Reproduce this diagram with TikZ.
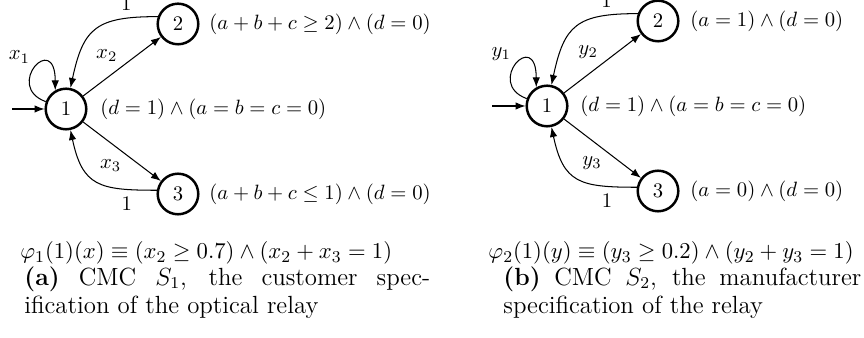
\documentclass[tikz,border=0pt]{standalone}
\usetikzlibrary{arrows.meta}
\begin{document}
\begin{tikzpicture}[x=0.483pt,y=0.483pt,
  state/.style={circle,draw,line width=1.2pt,minimum size=19.6pt,inner sep=0pt},
  tr/.style={line width=0.5pt,-{Latex[length=4.8pt,width=3.6pt]}},
  prop/.style={anchor=west,inner sep=0pt},
  elab/.style={inner sep=2pt},
  formula/.style={anchor=west,inner sep=0pt,font=\fontsize{11}{13}\selectfont},
  capline/.style={anchor=west,inner sep=0pt,font=\fontsize{12}{14}\selectfont}]
\useasboundingbox (0,0) rectangle (864,338);
% ---------- left CMC ----------
\node[state] (a1) at (66,229) {1};
\node[state] (a2) at (178,314) {2};
\node[state] (a3) at (178,144) {3};
\coordinate (sa) at (12,229);
\node[prop] (pa1) at (100,229) {$(d=1)\wedge(a=b=c=0)$};
\node[prop] (pa2) at (209,314) {$(a+b+c\geq 2)\wedge(d=0)$};
\node[prop] (pa3) at (209,144) {$(a+b+c\leq 1)\wedge(d=0)$};
\draw[tr] (sa) -- (a1);
\draw[tr] (a1.160) .. controls +(160:45) and +(90:60) .. node[elab,pos=0.5,above left] {$x_1$} (a1.120);
\draw[tr] (a1) -- node[elab,pos=0.5,above left] {$x_2$} (a2);
\draw[tr] (a1) -- node[elab,pos=0.55,below left] {$x_3$} (a3);
\draw[tr] (a2.160) to[out=180,in=78,looseness=1.4] node[pos=0.2,above] {$1$} (a1.78);
\draw[tr] (a3.170) to[out=180,in=-78,looseness=1.4] node[pos=0.2,below] {$1$} (a1.-78);
\node[formula] (fa) at (20,85) {$\varphi_1(1)(x)\equiv(x_2\geq 0.7)\wedge(x_2+x_3=1)$};
\node[capline] (ca1) at (24,59) {\makebox[196pt][s]{\textbf{(a)} CMC $S_1$, the customer spec-}};
\node[capline] (ca2) at (24,31) {ification of the optical relay};
% ---------- right CMC ----------
\node[state] (b1) at (547,232) {1};
\node[state] (b2) at (658,317) {2};
\node[state] (b3) at (658,147) {3};
\coordinate (sb) at (492,232);
\node[prop] (pb1) at (580,232) {$(d=1)\wedge(a=b=c=0)$};
\node[prop] (pb2) at (690,317) {$(a=1)\wedge(d=0)$};
\node[prop] (pb3) at (690,147) {$(a=0)\wedge(d=0)$};
\draw[tr] (sb) -- (b1);
\draw[tr] (b1.160) .. controls +(160:45) and +(90:60) .. node[elab,pos=0.5,above left] {$y_1$} (b1.120);
\draw[tr] (b1) -- node[elab,pos=0.5,above left] {$y_2$} (b2);
\draw[tr] (b1) -- node[elab,pos=0.55,below left] {$y_3$} (b3);
\draw[tr] (b2.160) to[out=180,in=78,looseness=1.4] node[pos=0.2,above] {$1$} (b1.78);
\draw[tr] (b3.170) to[out=180,in=-78,looseness=1.4] node[pos=0.2,below] {$1$} (b1.-78);
\node[formula] (fb) at (488,85) {$\varphi_2(1)(y)\equiv(y_3\geq 0.2)\wedge(y_2+y_3=1)$};
\node[capline] (cb1) at (503,59) {\makebox[172.9pt][s]{\textbf{(b)} CMC $S_2$, the manufacturer}};
\node[capline] (cb2) at (503,31) {specification of the relay};
\end{tikzpicture}
\end{document}
